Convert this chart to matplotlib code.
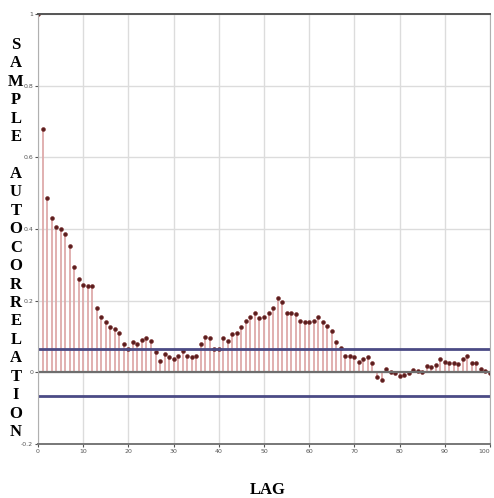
import numpy as np
import matplotlib.pyplot as plt

# sample autocorrelation, lags 0..100
lags = np.arange(0, 101)
acf = [
    1.0, 0.679, 0.486, 0.43, 0.405, 0.40, 0.386, 0.352, 0.293, 0.26,
    0.243, 0.24, 0.24, 0.18, 0.154, 0.14, 0.126, 0.12, 0.109, 0.078,
    0.064, 0.084, 0.078, 0.089, 0.095, 0.087, 0.056, 0.031, 0.05, 0.042,
    0.036, 0.045, 0.059, 0.045, 0.042, 0.047, 0.078, 0.098, 0.095, 0.064,
    0.064, 0.095, 0.087, 0.106, 0.109, 0.126, 0.142, 0.154, 0.165, 0.151,
    0.154, 0.165, 0.179, 0.207, 0.196, 0.165, 0.165, 0.162, 0.142, 0.14,
    0.14, 0.142, 0.154, 0.14, 0.128, 0.115, 0.084, 0.067, 0.045, 0.045,
    0.042, 0.028, 0.036, 0.042, 0.025, -0.014, -0.02, 0.008, 0.0, -0.003,
    -0.011, -0.008, -0.003, 0.006, 0.003, 0.0, 0.017, 0.014, 0.02, 0.036,
    0.028, 0.025, 0.025, 0.022, 0.036, 0.047, 0.025, 0.025, 0.008, 0.003,
    -0.003,
]
conf_bound = 0.065

x_ticks = [0, 10, 20, 30, 40, 50, 60, 70, 80, 90, 100]
x_ticklabels = ["0", "10", "20", "30", "40", "50", "60", "70", "80", "90", "100"]
y_ticks = [-0.2, 0, 0.2, 0.4, 0.6, 0.8, 1]
y_ticklabels = ["-0.2", "0", "0.2", "0.4", "0.6", "0.8", "1"]

fig = plt.figure(figsize=(4.94, 4.98), dpi=100)
ax = fig.add_axes([0.0769, 0.1084, 0.915, 0.8635])

ax.set_axisbelow(True)
ax.grid(True, color="#dcdcdc", linewidth=1.0)

ax.vlines(lags, 0, acf, color="#deaaaa", linewidth=1.3)
ax.plot(lags, acf, "o", color="#5a1e1e", markersize=2.8,
        markeredgecolor="#7a2a2a", markeredgewidth=0.4)

ax.axhline(0, color="#6e6e6e", linewidth=1.6)
ax.axhline(conf_bound, color="#4b4b85", linewidth=2.0)
ax.axhline(-conf_bound, color="#4b4b85", linewidth=2.0)

ax.set_xlim(0, 100)
ax.set_ylim(-0.2, 1)
ax.set_xticks(x_ticks)
ax.set_xticklabels(x_ticklabels)
ax.set_yticks(y_ticks)
ax.set_yticklabels(y_ticklabels)
ax.tick_params(labelsize=4.5, colors="#555555", length=2, width=0.8, pad=1.5)
# last label would run off the right edge
ax.get_xticklabels()[-1].set_horizontalalignment("right")

for side in ["left", "right"]:
    ax.spines[side].set_color("#b0b0b0")
ax.spines["top"].set_color("#555555")
ax.spines["top"].set_linewidth(1.4)
ax.spines["bottom"].set_color("#777777")
ax.spines["bottom"].set_linewidth(1.4)

# stacked letters for the y label
label = "SAMPLE AUTOCORRELATION"
y_start = 1 - 45 / 498
step = 18.43 / 498
for i, ch in enumerate(label):
    if ch == " ":
        continue
    fig.text(16 / 494, y_start - i * step, ch, ha="center", va="center",
             fontsize=12, fontweight="bold", family="Liberation Serif")

fig.text(268 / 494, 1 - 490 / 498, "LAG", ha="center", va="center",
         fontsize=12, fontweight="bold", family="Liberation Serif")

fig.savefig("out.png", dpi=100)
